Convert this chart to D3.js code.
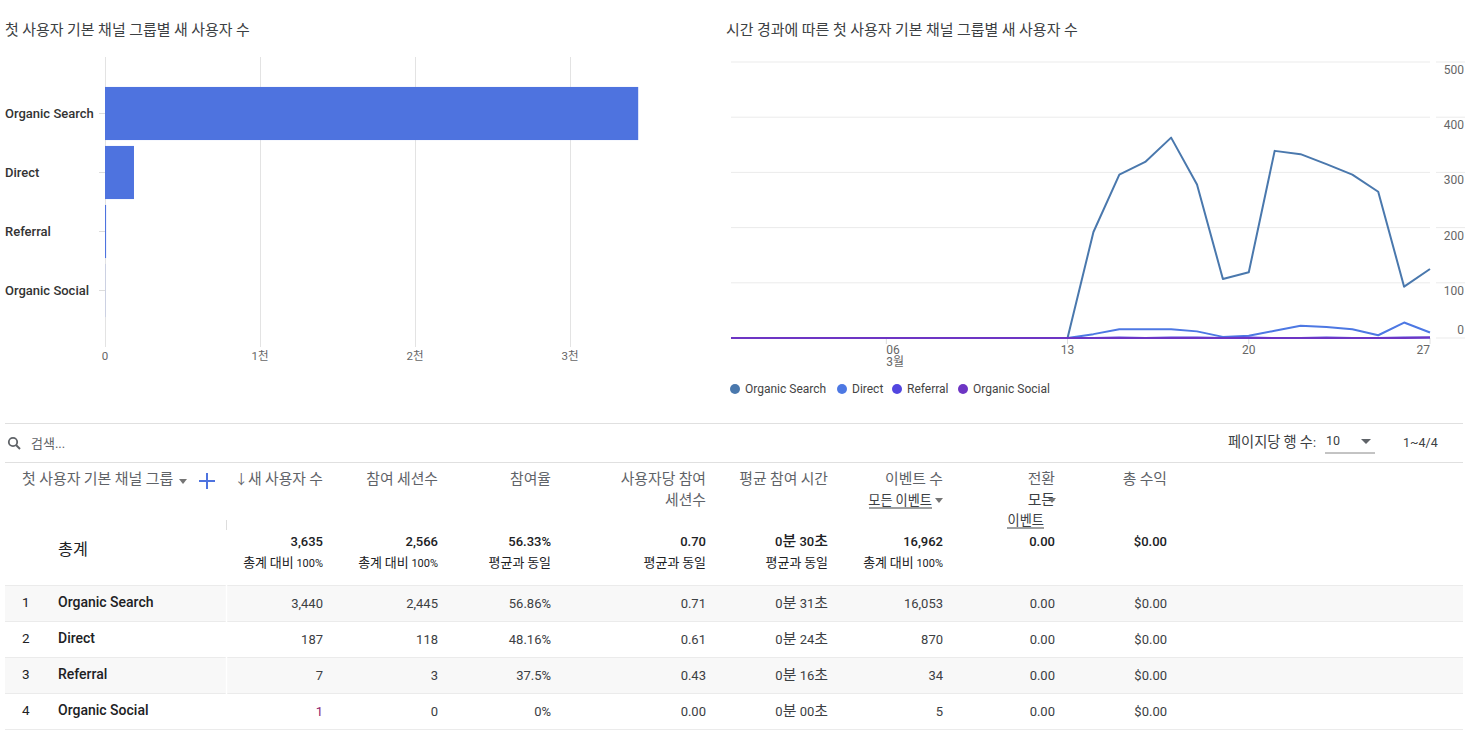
<!DOCTYPE html>
<html>
<head>
<meta charset="utf-8">
<script src="https://cdn.jsdelivr.net/npm/d3@7"></script>
<style>
  body { margin: 0; background: #fff; font-family: Roboto, "Noto Sans CJK KR", sans-serif; }
  svg text { font-family: Roboto, "Noto Sans CJK KR", sans-serif; }
</style>
</head>
<body>
<svg id="chart" width="1474" height="753"></svg>
<script>
// ---- data ----
const channels = ["Organic Search", "Direct", "Referral", "Organic Social"];
const newUsers = [3440, 187, 7, 1];
const barTicks = [0, 1000, 2000, 3000];
const barTickLabels = ["0", "1천", "2천", "3천"];

const days = d3.timeDays(new Date(2023, 1, 28), new Date(2023, 2, 28));
const organicSearch = [0,0,0,0,0,0,0,0,0,0,0,0,0,0, 192,296,319,363,278,107,119,339,333,315,296,265,93,125];
const direct        = [0,0,0,0,0,0,0,0,0,0,0,0,0,0, 7,16,16,16,12,2,4,13,22,20,16,5,28,10];
const referral      = [0,0,0,0,0,0,0,0,0,0,0,0,0,0, 0,1,0,1,1,0,1,0,0,1,0,0,1,1];
const organicSocial = [0,0,0,0,0,0,0,0,0,0,0,0,0,0, 0,0,0,0,0,0,0,0,0,0,0,0,0,1];
const lineTicks = [0, 100, 200, 300, 400, 500];
const seriesColors = ["#4a78ad", "#4d78e3", "#5246e0", "#6d35c4"];

const tableHeaders = ["↓새 사용자 수", "참여 세션수", "참여율", "사용자당 참여|세션수", "평균 참여 시간", "이벤트 수", "전환", "총 수익"];
const totals = ["3,635", "2,566", "56.33%", "0.70", "0분 30초", "16,962", "0.00", "$0.00"];
const totalsSub = ["총계 대비 100%", "총계 대비 100%", "평균과 동일", "평균과 동일", "평균과 동일", "총계 대비 100%", "", ""];
const rowValues = [
  ["3,440", "2,445", "56.86%", "0.71", "0분 31초", "16,053", "0.00", "$0.00"],
  ["187", "118", "48.16%", "0.61", "0분 24초", "870", "0.00", "$0.00"],
  ["7", "3", "37.5%", "0.43", "0분 16초", "34", "0.00", "$0.00"],
  ["1", "0", "0%", "0.00", "0분 00초", "5", "0.00", "$0.00"]
];

const svg = d3.select("#chart");

// hangul runs get a slightly bigger size, the reference font draws them wider
function ktext(sel, str, k) {
  sel.each(function () {
    const t = d3.select(this);
    const s = typeof str === "function" ? str.apply(this, arguments) : str;
    const base = +t.attr("font-size");
    t.text(null);
    (String(s).match(/[\uAC00-\uD7A3]+|[^\uAC00-\uD7A3]+/g) || []).forEach(p => {
      const ts = t.append("tspan").text(p);
      if (/[\uAC00-\uD7A3]/.test(p)) ts.attr("font-size", base * k);
    });
  });
  return sel;
}

// ---- bar chart ----
ktext(svg.append("text").attr("x", 5).attr("y", 35)
  .attr("font-size", 14).attr("fill", "#3c4043"), "첫 사용자 기본 채널 그룹별 새 사용자 수", 1.07);

const x = d3.scaleLinear().domain([0, 3000]).range([105, 570]);
const y = d3.scaleBand().domain(channels).range([84, 320]).paddingInner(0.1).paddingOuter(0.05);

const bar = svg.append("g");
bar.selectAll("line.grid").data(barTicks).join("line")
  .attr("x1", d => x(d) + 0.5).attr("x2", d => x(d) + 0.5)
  .attr("y1", 57).attr("y2", 347)
  .attr("stroke", "#e3e3e3");

bar.selectAll("rect").data(channels).join("rect")
  .attr("x", x(0))
  .attr("y", d => y(d))
  .attr("height", y.bandwidth())
  .attr("width", (d, i) => Math.max(x(newUsers[i]) - x(0), 0))
  .attr("fill", "#4e73df");

bar.selectAll("line.tick").data(channels).join("line")
  .attr("x1", 99).attr("x2", 105)
  .attr("y1", d => y(d) + y.bandwidth() / 2).attr("y2", d => y(d) + y.bandwidth() / 2)
  .attr("stroke", "#ddd");

bar.selectAll("text.cat").data(channels).join("text")
  .attr("x", 5).attr("y", d => y(d) + y.bandwidth() / 2 + 4.5)
  .attr("font-size", 13).attr("font-weight", 500).attr("fill", "#333")
  .text(d => d);

bar.selectAll("text.xl").data(barTicks).join("text")
  .attr("x", d => x(d)).attr("y", 360)
  .attr("text-anchor", "middle")
  .attr("font-size", 11.5).attr("fill", "#666")
  .text((d, i) => barTickLabels[i]);

// ---- line chart ----
ktext(svg.append("text").attr("x", 726).attr("y", 35)
  .attr("font-size", 14).attr("fill", "#3c4043"), "시간 경과에 따른 첫 사용자 기본 채널 그룹별 새 사용자 수", 1.07);

const tx = d3.scaleTime().domain([days[0], days[days.length - 1]]).range([731, 1430]);
const ly = d3.scaleLinear().domain([0, 500]).range([338, 62]);

const lc = svg.append("g");
lc.selectAll("line.grid").data(lineTicks).join("line")
  .attr("x1", 731).attr("x2", 1430)
  .attr("y1", d => ly(d)).attr("y2", d => ly(d))
  .attr("stroke", "#ebebeb");
lc.selectAll("line.gtick").data(lineTicks).join("line")
  .attr("x1", 1436).attr("x2", 1465)
  .attr("y1", d => ly(d)).attr("y2", d => ly(d))
  .attr("stroke", "#ebebeb");
lc.selectAll("text.yl").data(lineTicks).join("text")
  .attr("x", 1464)
  .attr("y", d => d === 0 ? ly(d) - 4 : ly(d) + 12)
  .attr("text-anchor", "end")
  .attr("font-size", 12).attr("fill", "#666")
  .text(d => d);

const dateTicks = [days[6], days[13], days[20], days[27]];
const anchors = ["start", "middle", "middle", "end"];
lc.selectAll("line.xt").data(dateTicks).join("line")
  .attr("x1", d => tx(d)).attr("x2", d => tx(d))
  .attr("y1", 338).attr("y2", 344)
  .attr("stroke", "#ddd");
lc.selectAll("text.xl").data(dateTicks).join("text")
  .attr("x", d => tx(d)).attr("y", 354)
  .attr("text-anchor", (d, i) => anchors[i])
  .attr("font-size", 12).attr("fill", "#666")
  .text(d => d3.timeFormat("%d")(d));
lc.append("text").attr("x", tx(days[6])).attr("y", 366)
  .attr("font-size", 12).attr("fill", "#666").text("3월");

const allSeries = [organicSearch, direct, referral, organicSocial];
const line = d3.line().x((d, i) => tx(days[i])).y(d => ly(d));
lc.selectAll("path.series").data(allSeries).join("path")
  .attr("fill", "none")
  .attr("stroke", (d, i) => seriesColors[i])
  .attr("stroke-width", 2)
  .attr("stroke-linejoin", "round")
  .attr("d", line);

const legendX = [735, 842, 897, 963];
const legend = lc.selectAll("g.leg").data(channels).join("g")
  .attr("transform", (d, i) => `translate(${legendX[i]},389)`);
legend.append("circle").attr("r", 5).attr("fill", (d, i) => seriesColors[i]);
legend.append("text").attr("x", 10).attr("y", 4)
  .attr("font-size", 12).attr("fill", "#444").text(d => d);

// ---- table ----
const tb = svg.append("g");
tb.append("line").attr("x1", 5).attr("x2", 1463).attr("y1", 423.5).attr("y2", 423.5).attr("stroke", "#e0e0e0");
tb.append("line").attr("x1", 5).attr("x2", 1463).attr("y1", 462.5).attr("y2", 462.5).attr("stroke", "#e0e0e0");

// search bar
tb.append("circle").attr("cx", 13).attr("cy", 442).attr("r", 4.2).attr("fill", "none").attr("stroke", "#5f6368").attr("stroke-width", 1.8);
tb.append("line").attr("x1", 16).attr("y1", 445).attr("x2", 20).attr("y2", 449).attr("stroke", "#5f6368").attr("stroke-width", 2);
tb.append("text").attr("x", 31).attr("y", 448).attr("font-size", 13).attr("fill", "#5f6368").text("검색...");
ktext(tb.append("text").attr("x", 1228).attr("y", 447).attr("font-size", 12.5).attr("fill", "#3c4043"), "페이지당 행 수:", 1.14);
tb.append("text").attr("x", 1326).attr("y", 445).attr("font-size", 12.5).attr("fill", "#3c4043").text("10");
tb.append("path").attr("d", "M1361,439 L1371,439 L1366,444 Z").attr("fill", "#5f6368");
tb.append("line").attr("x1", 1325).attr("x2", 1375).attr("y1", 453).attr("y2", 453).attr("stroke", "#888");
tb.append("text").attr("x", 1403).attr("y", 447).attr("font-size", 12.5).attr("fill", "#3c4043").text("1~4/4");

// header
ktext(tb.append("text").attr("x", 22).attr("y", 484).attr("font-size", 13.5).attr("fill", "#5f6368"), "첫 사용자 기본 채널 그룹", 1.11);
tb.append("path").attr("d", "M179,479 L187,479 L183,484 Z").attr("fill", "#757575");
tb.append("path").attr("d", "M207,473 L207,489 M199,481 L215,481").attr("stroke", "#4e73df").attr("stroke-width", 2);

const colRight = [323, 438, 551, 706, 828, 943, 1055, 1167];
tableHeaders.forEach((h, i) => {
  h.split("|").forEach((part, j) => {
    ktext(tb.append("text").attr("x", colRight[i]).attr("y", 484 + j * 21)
      .attr("text-anchor", "end").attr("font-size", 13.5).attr("fill", "#5f6368"), part, 1.1);
  });
});
// 이벤트 수 sub-selector
ktext(tb.append("text").attr("x", 932).attr("y", 505).attr("text-anchor", "end")
  .attr("font-size", 12).attr("fill", "#3c4043"), "모든 이벤트", 1.1);
tb.append("line").attr("x1", 869).attr("x2", 932).attr("y1", 508).attr("y2", 508).attr("stroke", "#3c4043");
tb.append("path").attr("d", "M935,498 L943,498 L939,503 Z").attr("fill", "#757575");
// 전환 sub-selector
ktext(tb.append("text").attr("x", 1055).attr("y", 505).attr("text-anchor", "end")
  .attr("font-size", 13.5).attr("fill", "#3c4043"), "모든", 1.1);
tb.append("path").attr("d", "M1048,498 L1056,498 L1052,503 Z").attr("fill", "#757575");
ktext(tb.append("text").attr("x", 1044).attr("y", 525).attr("text-anchor", "end")
  .attr("font-size", 12).attr("fill", "#3c4043"), "이벤트", 1.1);
tb.append("line").attr("x1", 1007).attr("x2", 1044).attr("y1", 528).attr("y2", 528).attr("stroke", "#3c4043");

tb.append("line").attr("x1", 226.5).attr("x2", 226.5).attr("y1", 520).attr("y2", 530).attr("stroke", "#ddd");

// totals
ktext(tb.append("text").attr("x", 58).attr("y", 555).attr("font-size", 13.5).attr("fill", "#202124"), "총계", 1.2);
totals.forEach((t, i) => {
  ktext(tb.append("text").attr("x", colRight[i]).attr("y", 546)
    .attr("text-anchor", "end").attr("font-size", 13).attr("font-weight", 500).attr("fill", "#202124"), t, 1.15);
  ktext(tb.append("text").attr("x", colRight[i]).attr("y", 567)
    .attr("text-anchor", "end").attr("font-size", 11).attr("fill", "#202124"), totalsSub[i], 1.18);
});

// rows
const rowY = d3.scaleBand().domain(d3.range(channels.length)).range([585, 729]);
const rows = tb.selectAll("g.row").data(channels).join("g")
  .attr("transform", (d, i) => `translate(0,${rowY(i)})`);
rows.append("rect").attr("x", 5).attr("width", 1458).attr("height", rowY.bandwidth())
  .attr("fill", (d, i) => i % 2 === 0 ? "#f8f8f8" : "#fff");
rows.append("line").attr("x1", 5).attr("x2", 1463).attr("y1", 0.5).attr("y2", 0.5).attr("stroke", "#ebebeb");
rows.append("line").attr("x1", 226.5).attr("x2", 226.5).attr("y1", 0).attr("y2", rowY.bandwidth()).attr("stroke", "#fff").attr("stroke-width", 1.5);
rows.append("text").attr("x", 22).attr("y", 22).attr("font-size", 13.5).attr("fill", "#202124").text((d, i) => i + 1);
rows.append("text").attr("x", 58).attr("y", 22).attr("font-size", 14).attr("font-weight", 500).attr("fill", "#202124").text(d => d);
rows.each(function (d, i) {
  const cells = d3.select(this).selectAll("text.v").data(rowValues[i]).join("text")
    .attr("class", "v")
    .attr("x", (v, j) => colRight[j]).attr("y", 23)
    .attr("text-anchor", "end").attr("font-size", 13)
    .attr("fill", (v, j) => (i === 3 && j === 0) ? "#8e2470" : "#3c4043");
  cells.each(function (v) { ktext(d3.select(this), v, 1.15); });
});
tb.append("line").attr("x1", 5).attr("x2", 1463).attr("y1", 729.5).attr("y2", 729.5).attr("stroke", "#ebebeb");
</script>
</body>
</html>
